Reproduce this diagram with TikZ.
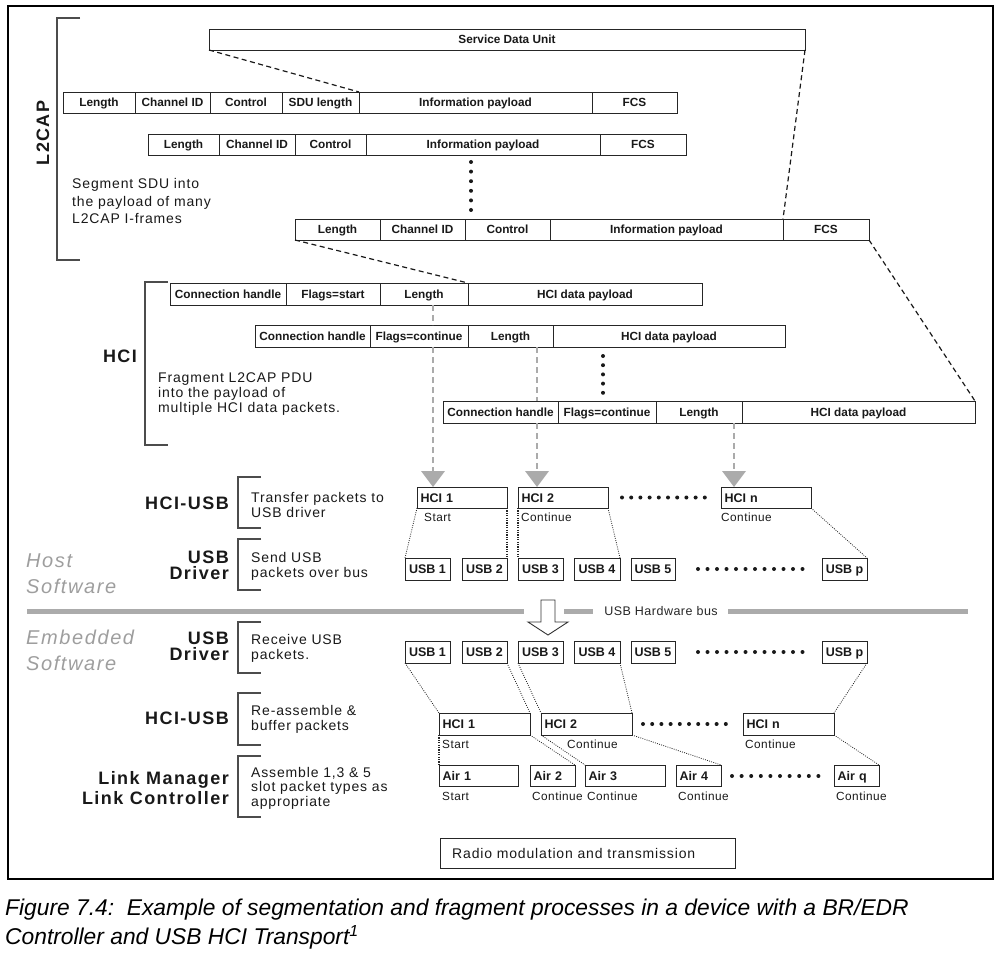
\documentclass[tikz,border=0pt]{standalone}
\usepackage{fontspec}
\setmainfont{Liberation Sans}
\newfontfamily\lsdesc[LetterSpace=6]{Liberation Sans}
\newfontfamily\lsbig[LetterSpace=8]{Liberation Sans}
\newfontfamily\lssmall[LetterSpace=4]{Liberation Sans}
\usetikzlibrary{arrows.meta,calc}
\tikzset{
  fld/.style={draw=black!85, line width=0.8pt, fill=white, inner sep=0pt, outer sep=0pt, text=black!90,
    text height=8.5pt, text depth=0pt, font=\fontsize{11.8}{13}\selectfont\bfseries},
  pk/.style={draw=black!85, line width=0.9pt, fill=white, inner ysep=0pt, inner xsep=3.5pt, outer sep=0pt, text=black!90,
    text height=9pt, text depth=0pt, font=\fontsize{12.5}{13}\selectfont\bfseries},
  dsh/.style={line width=1.2pt, dash pattern=on 5pt off 3.5pt, black!90},
  garr/.style={line width=2.4pt, dash pattern=on 6pt off 4pt, black!33},
  gtip/.style={garr, -{Triangle[width=24pt,length=16pt,fill=black!33,line width=0pt]}},
  dl/.style={line width=0.8pt, dash pattern=on 0.9pt off 1.3pt, black!85},
  dlt/.style={line width=1.5pt, dash pattern=on 1.2pt off 1.2pt, black!85},
  brk/.style={line width=1.2pt, black!70},
  desc/.style={font=\lsdesc\fontsize{14}{15}\selectfont, align=left, anchor=west, inner sep=0pt, text=black!90},
  lbl/.style={font=\lsbig\bfseries\fontsize{18}{16}\selectfont, align=right, anchor=east, inner sep=0pt, text=black!90},
  glbl/.style={font=\lsbig\itshape\fontsize{20}{26}\selectfont, align=left, anchor=west, inner sep=0pt, text=black!38},
  sl/.style={font=\lssmall\fontsize{11.8}{12}\selectfont, anchor=west, inner sep=0pt, text=black!90},
  bus/.style={line width=5pt, black!33},
  dotf/.style={fill=black!90},
}
% centred field: [opts]{name}{x1}{y1}{x2}{y2}{text}
\newcommand\fld[7][]{\node[fld,anchor=north west,minimum width={(#5-#3)*1pt},minimum height={(#6-#4)*1pt},#1] (#2) at (#3,#4) {#7};}
% packet box with left text: {name}{x1}{y1}{x2}{y2}{text}
\newcommand\pkl[6]{\node[pk,anchor=north west,text width={(#4-#2-7)*1pt},align=left,minimum height={(#5-#3)*1pt}] (#1) at (#2,#3) {#6};}
% packet box with centred text
\newcommand\pkc[6]{\node[pk,anchor=north west,inner xsep=0pt,minimum width={(#4-#2)*1pt},minimum height={(#5-#3)*1pt}] (#1) at (#2,#3) {#6};}
\newcommand\brkt[3]{\draw[brk] (#1+23,#2) -- (#1,#2) -- (#1,#3) -- (#1+23,#3);}
\begin{document}
\begin{tikzpicture}[x=1pt,y=-1pt]
\useasboundingbox (0,0) rectangle (1004,960);
\draw[line width=2.5pt] (8,6) rectangle (993,879);

% ---------- L2CAP ----------
\fld{sdu}{209}{29}{805}{50}{Service Data Unit}
\fld{r1len}{63}{92}{135}{113}{Length}
\fld{r1cid}{135}{92}{210}{113}{Channel ID}
\fld{r1ctl}{210}{92}{282}{113}{Control}
\fld{r1sdu}{282}{92}{359}{113}{SDU length}
\fld{r1inf}{359}{92}{592}{113}{Information payload}
\fld{r1fcs}{592}{92}{677}{113}{FCS}

\fld{r2len}{148}{134}{219}{155}{Length}
\fld{r2cid}{219}{134}{295}{155}{Channel ID}
\fld{r2ctl}{295}{134}{366}{155}{Control}
\fld{r2inf}{366}{134}{600}{155}{Information payload}
\fld{r2fcs}{600}{134}{686}{155}{FCS}

\fld{r3len}{295}{219}{380}{240}{Length}
\fld{r3cid}{380}{219}{465}{240}{Channel ID}
\fld{r3ctl}{465}{219}{550}{240}{Control}
\fld{r3inf}{550}{219}{783}{240}{Information payload}
\fld{r3fcs}{783}{219}{869}{240}{FCS}

\foreach \i in {0,...,5} \fill[dotf] (471,162+\i*9.6) circle (2);

\brkt{57}{18}{260}
\node[lbl, anchor=center, rotate=90] (tl2) at (43,133) {L2CAP};
\node[desc, font=\lsdesc\fontsize{14}{17.5}\selectfont] (dl2) at (72,201) {Segment SDU into\\the payload of many\\L2CAP I-frames};

% ---------- HCI ----------
\fld{hAch}{170}{283}{286}{305}{Connection handle}
\fld{hAfl}{286}{283}{380}{305}{Flags=start}
\fld{hAlen}{380}{283}{468}{305}{Length}
\fld{hApay}{468}{283}{702}{305}{HCI data payload}

\fld{hBch}{255}{325}{370}{347}{Connection handle}
\fld{hBfl}{370}{325}{468}{347}{Flags=continue}
\fld{hBlen}{468}{325}{553}{347}{Length}
\fld{hBpay}{553}{325}{785}{347}{HCI data payload}

\fld{hCch}{443}{401}{558}{423}{Connection handle}
\fld{hCfl}{558}{401}{656}{423}{Flags=continue}
\fld{hClen}{656}{401}{742}{423}{Length}
\fld{hCpay}{742}{401}{975}{423}{HCI data payload}

\foreach \i in {0,...,4} \fill[dotf] (603,356+\i*9.2) circle (2);

\brkt{145}{282}{445}
\node[lbl, anchor=center] (thci) at (120,356) {HCI};
\node[desc] (dhci) at (158,394) {Fragment L2CAP PDU\\into the payload of\\multiple HCI data packets.};

% dashed black connectors
\draw[dsh] (sdu.south west) -- (r1sdu.north east);
\draw[dsh] (sdu.south east) -- (r3inf.north east);
\draw[dsh] (r3len.south west) -- (hAlen.north east);
\draw[dsh] (r3fcs.south east) -- (hCpay.north east);

% ---------- Host HCI-USB ----------
\pkl{hh1}{417}{487}{507}{508}{HCI 1}
\pkl{hh2}{518}{487}{608}{508}{HCI 2}
\pkl{hhn}{721}{487}{811}{508}{HCI n}
\foreach \i in {0,...,9} \fill[dotf] (622+\i*9.2,497.5) circle (2);
\node[sl] (lh1) at (424,517) {Start};
\node[sl] (lh2) at (521,517) {Continue};
\node[sl] (lhn) at (721,517) {Continue};

% grey dashed arrows
\coordinate (a1) at ([xshift=9pt]hAlen.south);
\coordinate (a2) at ([xshift=26.5pt]hBlen.south);
\coordinate (a3) at ([xshift=35pt]hClen.south);
\draw[garr] (a1) -- (a1 |- hBfl.north);
\draw[gtip] (a1 |- hBfl.south) -- (a1 |- hh1.north);
\draw[garr] (a2) -- (a2 |- hCch.north);
\draw[gtip] (a2 |- hCch.south) -- (a2 |- hh2.north);
\draw[gtip] (a3) -- (a3 |- hhn.north);

% host USB packets
\pkc{hu1}{405}{558}{450}{580}{USB 1}
\pkc{hu2}{462}{558}{507}{580}{USB 2}
\pkc{hu3}{518}{558}{563}{580}{USB 3}
\pkc{hu4}{574}{558}{620}{580}{USB 4}
\pkc{hu5}{631}{558}{675}{580}{USB 5}
\pkc{hup}{822}{558}{867}{580}{USB p}
\foreach \i in {0,...,11} \fill[dotf] (698+\i*9.5,569) circle (2);

\draw[dl] (hh1.south west) -- (hu1.north west);
\draw[dlt] (hh1.south east) -- (hu2.north east);
\draw[dlt] (hh2.south west) -- (hu3.north west);
\draw[dl] (hh2.south east) -- (hu4.north east);
\draw[dl] (hhn.south east) -- (hup.north east);

\brkt{238}{477}{528}
\node[lbl] (thu) at (229,503) {HCI-USB};
\node[desc] (dhu) at (251,505) {Transfer packets to\\USB driver};
\brkt{238}{539}{590}
\node[lbl] (tud) at (229,565) {USB\\Driver};
\node[desc] (dud) at (251,566) {Send USB\\packets over bus};
\node[glbl] (thost) at (26,574) {Host\\Software};

% ---------- USB bus ----------
\draw[bus] (27,611) -- (524,611);
\draw[bus] (564,611) -- (593,611);
\draw[bus] (728,611) -- (968,611);
\node[font=\lssmall\fontsize{12.5}{13}\selectfont, inner sep=0pt, text=black!85] (tbus) at (661,611) {USB Hardware bus};
\draw[line width=0.9pt, black!80, fill=white] (541,600) -- (555,600) -- (555,622) -- (568,622) -- (548,635) -- (528,622) -- (541,622) -- cycle;

% ---------- Embedded ----------
\node[glbl] (temb) at (26,650) {Embedded\\Software};
\brkt{238}{622}{673}
\node[lbl] (teud) at (229,646) {USB\\Driver};
\node[desc] (deud) at (251,648) {Receive USB\\packets.};
\brkt{238}{693}{745}
\node[lbl] (tehu) at (229,718) {HCI-USB};
\node[desc] (dehu) at (251,719) {Re-assemble \&\\buffer packets};
\brkt{238}{756}{817}
\node[lbl, font=\lsbig\bfseries\fontsize{18}{20}\selectfont] (tlm) at (229,788) {Link Manager\\Link Controller};
\node[desc, font=\lsdesc\fontsize{14}{14.5}\selectfont] (dlm) at (251,788) {Assemble 1,3 \& 5\\slot packet types as\\appropriate};

\pkc{eu1}{405}{641}{450}{663}{USB 1}
\pkc{eu2}{462}{641}{507}{663}{USB 2}
\pkc{eu3}{518}{641}{563}{663}{USB 3}
\pkc{eu4}{574}{641}{620}{663}{USB 4}
\pkc{eu5}{631}{641}{675}{663}{USB 5}
\pkc{eup}{822}{641}{867}{663}{USB p}
\foreach \i in {0,...,11} \fill[dotf] (698+\i*9.5,652) circle (2);

\pkl{eh1}{439}{713}{530}{735}{HCI 1}
\pkl{eh2}{541}{713}{632}{735}{HCI 2}
\pkl{ehn}{743}{713}{834}{735}{HCI n}
\foreach \i in {0,...,9} \fill[dotf] (643+\i*9.2,724) circle (2);
\node[sl] (le1) at (442,744) {Start};
\node[sl] (le2) at (567,744) {Continue};
\node[sl] (len) at (745,744) {Continue};

\pkl{air1}{439}{765}{518}{786}{Air 1}
\pkl{air2}{530}{765}{575}{786}{Air 2}
\pkl{air3}{585}{765}{665}{786}{Air 3}
\pkl{air4}{676}{765}{721}{786}{Air 4}
\pkl{airq}{834}{765}{879}{786}{Air q}
\foreach \i in {0,...,9} \fill[dotf] (732+\i*9.6,776) circle (2);
\node[sl] (la1) at (442,796) {Start};
\node[sl] (la2) at (532,796) {Continue};
\node[sl] (la3) at (587,796) {Continue};
\node[sl] (la4) at (678,796) {Continue};
\node[sl] (laq) at (836,796) {Continue};

\draw[dl] (eu1.south west) -- (eh1.north west);
\draw[dl] (eu2.south east) -- (eh1.north east);
\draw[dl] (eu3.south west) -- (eh2.north west);
\draw[dl] (eu4.south east) -- (eh2.north east);
\draw[dl] (eup.south east) -- (ehn.north east);
\draw[dlt] (eh1.south west) -- (air1.north west);
\draw[dl] (eh1.south east) -- (air2.north east);
\draw[dl] (eh2.south west) -- (air3.north west);
\draw[dl] (eh2.south east) -- (air4.north east);
\draw[dl] (ehn.south east) -- (airq.north east);

\node[draw=black!85, line width=0.9pt, anchor=north west, minimum width=295pt, minimum height=30pt, inner sep=0pt] (radio) at (440,838) {};
\node[font=\lsdesc\fontsize{14}{15}\selectfont, anchor=west, inner sep=0pt, text=black!90] (tradio) at (452,853) {Radio modulation and transmission};

% ---------- caption ----------
\node[font=\itshape\fontsize{22.8}{29}\selectfont, align=left, anchor=west, inner sep=0pt] (cap) at (5,924)
  {Figure 7.4:\ \ Example of segmentation and fragment processes in a device with a BR/EDR\\Controller and USB HCI Transport\textsuperscript{1}};
\end{tikzpicture}
\end{document}
